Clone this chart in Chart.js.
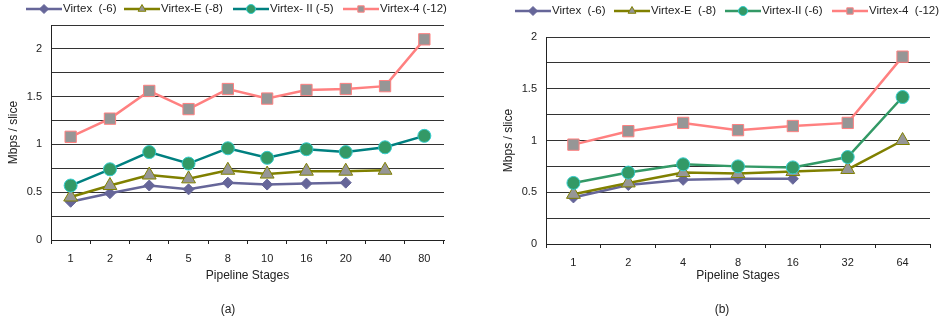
<!DOCTYPE html>
<html>
<head>
<meta charset="utf-8">
<script src="https://cdn.jsdelivr.net/npm/chart.js@4.4.1/dist/chart.umd.min.js"></script>
<style>
    html, body { margin: 0; padding: 0; background: #fff; }
    body { width: 939px; height: 327px; position: relative; overflow: hidden; font-family: "Liberation Sans", Arial, sans-serif; }
    .panel { position: absolute; top: 0; height: 327px; }
    #panelA { left: 0; width: 470px; }
    #panelB { left: 470px; width: 469px; }
    .caption { position: absolute; top: 302px; font-size: 12px; color: #222; transform: translateX(-50%); }
</style>
</head>
<body>
<div class="panel" id="panelA"><canvas id="chartA"></canvas></div>
<div class="panel" id="panelB"><canvas id="chartB"></canvas></div>
<div class="caption" style="left:228px">(a)</div>
<div class="caption" style="left:722px">(b)</div>

<script>
// Panel (a)
const stagesA = ['1', '2', '4', '5', '8', '10', '16', '20', '40', '80'];
const virtexA = [0.40, 0.49, 0.57, 0.53, 0.60, 0.58, 0.59, 0.60, null, null];
const virtexEA = [0.45, 0.57, 0.68, 0.64, 0.73, 0.69, 0.72, 0.72, 0.73, null];
const virtexIIA = [0.57, 0.74, 0.92, 0.80, 0.96, 0.86, 0.95, 0.92, 0.97, 1.09];
const virtex4A = [1.08, 1.27, 1.56, 1.37, 1.58, 1.48, 1.57, 1.58, 1.61, 2.10];

// Panel (b)
const stagesB = ['1', '2', '4', '8', '16', '32', '64'];
const virtexB = [0.45, 0.57, 0.62, 0.63, 0.63, null, null];
const virtexEB = [0.48, 0.59, 0.69, 0.68, 0.70, 0.72, 1.00];
const virtexIIB = [0.59, 0.69, 0.77, 0.75, 0.74, 0.84, 1.42];
const virtex4B = [0.96, 1.09, 1.17, 1.10, 1.14, 1.17, 1.81];

const FONT = '"Liberation Sans", Arial, sans-serif';
Chart.defaults.font.family = FONT;
Chart.defaults.color = '#222';

// Excel-like legend: short line with the marker on it, then the label
const lineLegend = {
    id: 'lineLegend',
    afterDraw(chart, args, opts) {
        const ctx = chart.ctx;
        const y = opts.y;
        ctx.save();
        ctx.font = '11.5px ' + FONT;
        ctx.textBaseline = 'middle';
        chart.data.datasets.forEach((ds, i) => {
            const x = opts.xs[i];
            ctx.strokeStyle = ds.borderColor;
            ctx.lineWidth = ds.borderWidth;
            ctx.beginPath();
            ctx.moveTo(x, y);
            ctx.lineTo(x + 36, y);
            ctx.stroke();

            ctx.fillStyle = ds.pointBackgroundColor;
            ctx.strokeStyle = ds.pointBorderColor;
            ctx.lineWidth = 1;
            Chart.helpers.drawPoint(ctx, { pointStyle: ds.pointStyle, radius: 4.5, borderWidth: 1, rotation: 0 }, x + 18, y);

            ctx.fillStyle = '#222';
            ctx.fillText(ds.label, x + 37, y);
        });
        ctx.restore();
    }
};

function series(label, data, line, fill, border, style, radius, order) {
    return {
        label: label,
        data: data,
        borderColor: line,
        borderWidth: 2.5,
        pointStyle: style,
        pointRadius: radius,
        pointBackgroundColor: fill,
        pointBorderColor: border,
        pointBorderWidth: 1,
        tension: 0,
        spanGaps: false,
        order: order
    };
}

function createStageChart(canvasId, cfg) {
    const ctx = document.getElementById(canvasId).getContext('2d');
    return new Chart(ctx, {
        type: 'line',
        data: { labels: cfg.labels, datasets: cfg.datasets },
        plugins: [lineLegend],
        options: {
            responsive: true,
            maintainAspectRatio: false,
            animation: false,
            layout: { padding: cfg.padding },
            plugins: {
                legend: { display: false },
                tooltip: { enabled: false },
                lineLegend: cfg.legend
            },
            scales: {
                x: {
                    offset: true,
                    afterFit(scale) { scale.height = cfg.xHeight; },
                    grid: { offset: true, drawOnChartArea: false, drawTicks: true, tickLength: 4, color: '#222' },
                    border: { display: true, color: '#222' },
                    ticks: { padding: cfg.xTickPad, font: { size: 11 }, maxRotation: 0, autoSkip: false },
                    title: { display: true, text: 'Pipeline Stages', font: { size: 12 }, padding: { top: 0, bottom: 2 } }
                },
                y: {
                    min: 0,
                    max: cfg.yMax,
                    afterFit(scale) { scale.width = cfg.yWidth; },
                    grid: { color: '#333', lineWidth: 1, drawTicks: false },
                    border: { display: true, color: '#222' },
                    ticks: {
                        stepSize: 0.25,
                        padding: 9,
                        font: { size: 11 },
                        autoSkip: false,
                        callback: v => Math.abs(v * 2 - Math.round(v * 2)) < 1e-6 ? String(v) : ''
                    },
                    title: { display: true, text: 'Mbps / slice', font: { size: 12 }, padding: { top: cfg.yTitlePad, bottom: 0 } }
                }
            }
        }
    });
}

createStageChart('chartA', {
    labels: stagesA,
    datasets: [
        series('Virtex  (-6)', virtexA, '#666699', '#666699', '#666699', 'rectRot', 5.5, 4),
        series('Virtex-E (-8)', virtexEA, '#808000', '#969696', '#808000', 'triangle', 8, 3),
        series('Virtex- II (-5)', virtexIIA, '#008080', '#339966', '#33cccc', 'circle', 6.5, 2),
        series('Virtex-4 (-12)', virtex4A, '#ff8080', '#969696', '#ff8080', 'rect', 8, 1)
    ],
    padding: { left: 0, top: 25, right: 26, bottom: 42 },
    xHeight: 45,
    xTickPad: 8,
    yWidth: 51,
    yMax: 2.25,
    yTitlePad: 6,
    legend: { xs: [26, 124, 233, 343], y: 9 }
});

createStageChart('chartB', {
    labels: stagesB,
    datasets: [
        series('Virtex  (-6)', virtexB, '#666699', '#666699', '#666699', 'rectRot', 5.5, 4),
        series('Virtex-E  (-8)', virtexEB, '#808000', '#969696', '#808000', 'triangle', 8, 3),
        series('Virtex-II (-6)', virtexIIB, '#339966', '#339966', '#33cccc', 'circle', 6.5, 2),
        series('Virtex-4  (-12)', virtex4B, '#ff8080', '#969696', '#ff8080', 'rect', 8, 1)
    ],
    padding: { left: 0, top: 37, right: 0, bottom: 42 },
    xHeight: 41,
    xTickPad: 8,
    yWidth: 76,
    yMax: 2,
    yTitlePad: 31,
    legend: { xs: [45, 144, 255, 362], y: 11 }
});
</script>
</body>
</html>
